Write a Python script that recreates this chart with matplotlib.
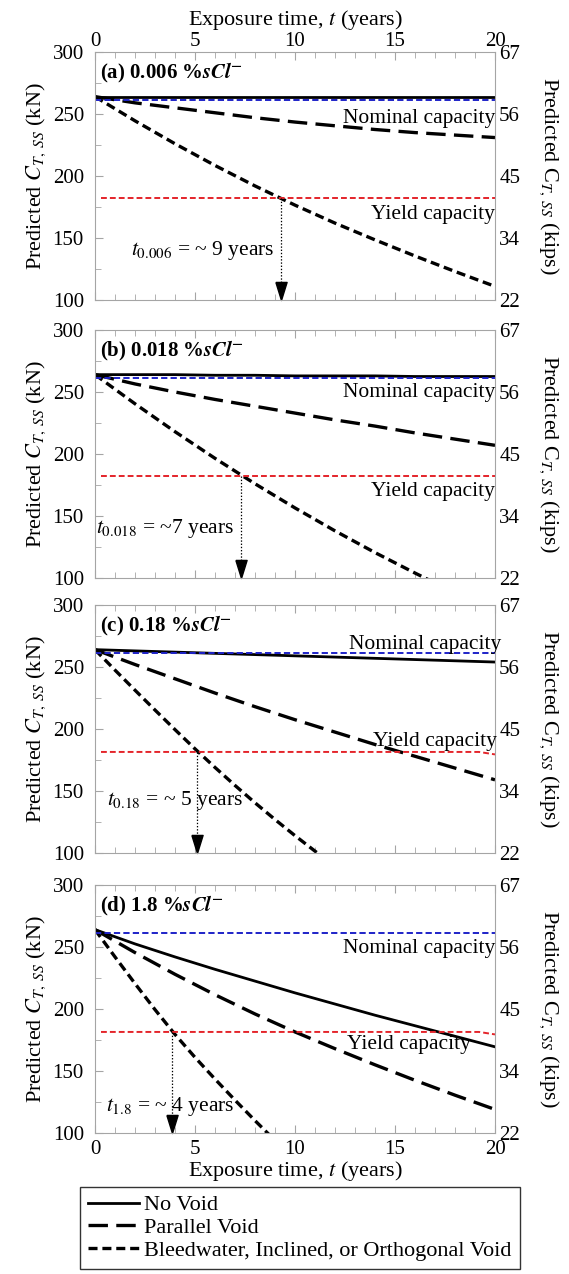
import matplotlib.pyplot as plt
from matplotlib.path import Path

plt.rcParams['font.family'] = 'Liberation Serif'
plt.rcParams['mathtext.fontset'] = 'stix'
plt.rcParams['lines.scale_dashes'] = False

# exposure time (years)
t2 = [0, 2, 4, 6, 8, 10, 12, 14, 16, 18, 20]

# (a) 0.006 %sCl-
no_void_a = [264, 264, 264, 264, 264, 264, 264, 264, 264, 264, 264]
parallel_a = [264, 259, 255, 251, 247, 243.5, 240.5, 237.5, 235, 233, 231]
bleed_a = [264, 244.5, 226, 208.5, 192, 176.5, 162, 148.5, 135.5, 123, 111]

# (b) 0.018 %sCl-
no_void_b = [264, 264, 264, 263.5, 263.5, 263, 263, 263, 262.5, 262.5, 262.5]
parallel_b = [264, 256.5, 250, 244, 238.5, 233, 227.5, 222.5, 217, 212, 207]
t_bleed_b = [0, 2, 4, 6, 8, 10, 12, 14, 16, 17]
bleed_b = [264, 240.5, 218, 196.5, 176, 156.5, 138, 120.5, 104, 96]

# (c) 0.18 %sCl-
no_void_c = [264, 263, 262, 261, 260, 259, 258, 257, 256, 255, 254]
parallel_c = [264, 252, 240.5, 229, 218, 207.5, 197.5, 187.5, 178, 168.5, 159]
t_bleed_c = [0, 1, 2, 3, 4, 5, 6, 7, 8, 9, 10, 11, 11.5]
bleed_c = [264, 247.5, 231.3, 215.3, 199.5, 184, 169, 154.5, 140.5, 127, 114, 101.5, 95.3]

# (d) 1.8 %sCl-
no_void_d = [264, 252.5, 242, 232, 222.5, 213, 204, 195, 186.5, 178, 169.5]
parallel_d = [264, 245.5, 228, 211.5, 196, 181.5, 168, 155, 142.5, 130.5, 119]
t_bleed_d = [0, 1, 2, 3, 4, 5, 6, 7, 8, 9]
bleed_d = [264, 242, 220.5, 199.5, 179.5, 161, 143.5, 126.5, 110, 94]

nominal_cap = 261.5
yield_x = [0.3, 19.2, 20]
yield_a = [182, 182, 182]
yield_b = [182, 182, 182]
yield_c = [181.5, 181.5, 179.5]
yield_d = [181.5, 181.5, 179.5]

t_cross = [9.3, 7.3, 5.1, 3.85]
cross_text = [r'$t_{\mathit{0.006}}$ = ~ 9 years', r'$t_{\mathit{0.018}}$ = ~7 years',
              r'$t_{\mathit{0.18}}$ = ~ 5 years', r'$t_{\mathit{1.8}}$ = ~ 4 years']
panel_tags = ['(a) 0.006 %', '(b) 0.018 %', '(c) 0.18 %', '(d) 1.8 %']

kn_ticks = [100, 150, 200, 250, 300]
kips_labels = ['22', '34', '45', '56', '67']

panels = [
    (t2, no_void_a, t2, parallel_a, t2, bleed_a, yield_a),
    (t2, no_void_b, t2, parallel_b, t_bleed_b, bleed_b, yield_b),
    (t2, no_void_c, t2, parallel_c, t_bleed_c, bleed_c, yield_c),
    (t2, no_void_d, t2, parallel_d, t_bleed_d, bleed_d, yield_d),
]

# text positions (right edge x, centre y) in data units
nom_pos = [(20, 246), (20, 250), (20.3, 268), (20, 249)]
yld_pos = [(20, 169), (20, 170), (20.1, 190), (18.8, 171)]
cross_pos = [(8.95, 140), (6.95, 140), (7.4, 142), (6.95, 121)]

tops = [52, 330, 605, 885]
H, W = 1274, 569
ax_h = 248
ax_l, ax_w = 95, 400

head = Path([(-0.31, 1.0), (0.31, 1.0), (0, 0), (-0.31, 1.0)])

fig = plt.figure(figsize=(W / 100, H / 100), dpi=100)
grey = '#a5a5a5'
fs = 15

for i, (tn, nv, tp, pv, tb, bv, yv) in enumerate(panels):
    top = tops[i]
    ax = fig.add_axes([ax_l / W, 1 - (top + ax_h) / H, ax_w / W, ax_h / H])
    l1, = ax.plot(tn, nv, color='black', lw=2.0, label='No Void')
    l2, = ax.plot(tp, pv, color='black', lw=2.4, dashes=(14, 6), label='Parallel Void')
    l3, = ax.plot(tb, bv, color='black', lw=2.4, dashes=(6.5, 3.5),
                  label='Bleedwater, Inclined, or Orthogonal Void')
    ax.plot([0, 20], [nominal_cap, nominal_cap], color='#1e22c8', lw=1.4, dashes=(4.5, 2.3))
    ax.plot(yield_x, yv, color='#e4242a', lw=1.4, dashes=(4.2, 2.2))

    tc = t_cross[i]
    ax.plot([tc, tc], [yv[0], 108], color='black', lw=0.9, ls=(0, (1, 1.3)))
    ax.plot([tc], [100], marker=head, markersize=26, color='black', clip_on=False, ls='none')

    ax.set_xlim(0, 20)
    ax.set_ylim(100, 300)
    ax.set_xticks([0, 5, 10, 15, 20])
    ax.set_xticks(range(0, 21), minor=True)
    ax.set_yticks(kn_ticks)
    ax.set_yticks([125, 175, 225, 275], minor=True)
    for s in ax.spines.values():
        s.set_color(grey)
    ax.tick_params(which='both', direction='in', color=grey, top=True, right=True,
                   labelsize=fs, pad=8)
    ax.tick_params(which='major', length=6)
    ax.tick_params(which='minor', length=4)
    ax.set_ylabel(r'Predicted $C_{T,\;SS}$ (kN)', fontsize=16, labelpad=3)

    if i == 0:
        ax.xaxis.set_label_position('top')
        ax.tick_params(axis='x', pad=1, labeltop=True, labelbottom=False)
        ax.set_xlabel(r'Exposure time, $t$ (years)', fontsize=16, labelpad=5)
    elif i == 3:
        ax.tick_params(axis='x', pad=5)
        ax.set_xlabel(r'Exposure time, $t$ (years)', fontsize=16, labelpad=0)
    else:
        ax.tick_params(labelbottom=False)

    ax2 = ax.twinx()
    ax2.set_ylim(100, 300)
    ax2.set_yticks(kn_ticks)
    ax2.set_yticklabels(kips_labels)
    ax2.tick_params(length=0, labelsize=fs, pad=3)
    for s in ax2.spines.values():
        s.set_visible(False)
    fig.text(549 / W, 1 - (top + ax_h / 2) / H, r'Predicted C$_{T,\;SS}$ (kips)',
             fontsize=16, rotation=-90, ha='center', va='center')

    ax.text(0.25, 283, panel_tags[i] + r'$\mathbfit{sCl}^{\mathbf{-}}$', fontsize=15,
            fontweight='bold', ha='left', va='center')
    ax.text(*nom_pos[i], 'Nominal capacity', fontsize=15.5, ha='right', va='center')
    ax.text(*yld_pos[i], 'Yield capacity', fontsize=15.5, ha='right', va='center')
    ax.text(*cross_pos[i], cross_text[i], fontsize=15.5, ha='right', va='center')

fig.legend(handles=[l1, l2, l3], loc='upper left', bbox_to_anchor=(80 / W, 1 - 1187 / H),
           fontsize=16, frameon=True, fancybox=False, edgecolor='#333333', framealpha=1,
           handlelength=2.3, handletextpad=0.25, labelspacing=0.1, borderpad=0.35,
           borderaxespad=0)

fig.savefig('out.png', dpi=100)
